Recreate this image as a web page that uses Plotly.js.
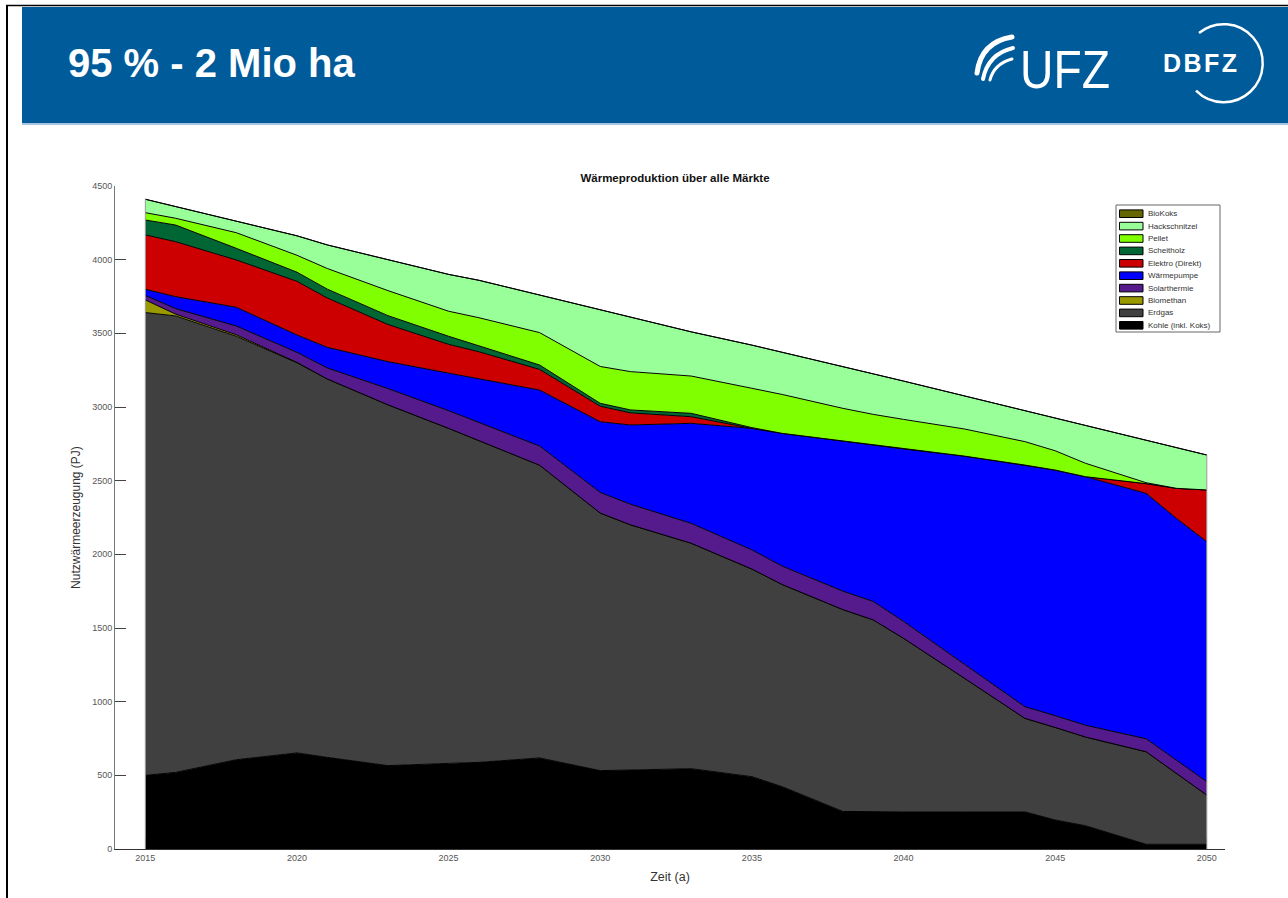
<!DOCTYPE html>
<html>
<head>
<meta charset="utf-8">
<script src="https://cdn.plot.ly/plotly-3.0.1.min.js"></script>
<style>
  html, body { margin:0; padding:0; background:#fff; }
  #page { position:relative; width:1288px; height:898px; overflow:hidden; background:#fff; }
  #chart { position:absolute; left:0; top:0; width:1288px; height:898px; }
  #header { position:absolute; left:0; top:0; }
  #leftborder { position:absolute; left:6px; top:5px; width:2px; height:893px; background:#000; }
</style>
</head>
<body>
<div id="page">
  <div id="chart"></div>
  <svg id="header" width="1288" height="130" xmlns="http://www.w3.org/2000/svg">
    <line x1="6" y1="5.5" x2="1288" y2="5.5" stroke="#000" stroke-width="1.5"/>
    <rect x="22" y="7" width="1266" height="116" fill="#005b9b"/>
    <rect x="22" y="123" width="1266" height="2" fill="#a8c4de"/>
    <text x="68" y="77" font-family="Liberation Sans, Arial, sans-serif" font-weight="bold" font-size="40" fill="#ffffff">95 % - 2 Mio ha</text>
    <g fill="none" stroke="#ffffff" stroke-linecap="round">
      <path d="M977 73 Q981 42 1012 37" stroke-width="5"/>
      <path d="M983 79 Q988 54 1013 48" stroke-width="4"/>
      <path d="M990 80 Q994 64 1012 59" stroke-width="3"/>
    </g>
    <text x="1020" y="88" font-family="Liberation Sans, Arial, sans-serif" font-size="53" textLength="90" lengthAdjust="spacingAndGlyphs" fill="#ffffff">UFZ</text>
    <text x="1163" y="72" font-family="Liberation Sans, Arial, sans-serif" font-weight="bold" font-size="25" textLength="74" lengthAdjust="spacing" fill="#ffffff">DBFZ</text>
    <path d="M1199 33 A39 39 0 1 1 1196 90.6" fill="none" stroke="#ffffff" stroke-width="2.5"/>
  </svg>
  <div id="leftborder"></div>
</div>
<script>
// ---- data (PJ) ----
const years = [2015, 2016, 2018, 2020, 2021, 2023, 2025, 2026, 2028, 2030, 2031, 2033,
               2035, 2036, 2038, 2039, 2040, 2042, 2044, 2045, 2046, 2048, 2049, 2050];

const kohle        = [500, 520, 606, 652, 622, 566, 581, 588, 618, 532, 536, 545,
                      491, 423, 255, 252, 252, 252, 252, 197, 158, 32, 32, 32];
const erdgas       = [3141, 3098, 2874, 2648, 2568, 2449, 2274, 2183, 1987, 1748, 1664, 1530,
                      1409, 1372, 1370, 1303, 1178, 908, 635, 628, 602, 628, 481, 334];
const biomethan    = [86, 12, 10, 3, 0, 0, 0, 0, 0, 0, 0, 0,
                      0, 0, 0, 0, 0, 0, 0, 0, 0, 0, 0, 0];
const solarthermie = [30, 38, 60, 68, 75, 110, 120, 125, 130, 140, 140, 135,
                      130, 125, 125, 125, 115, 95, 79, 80, 80, 88, 91, 91];
const waermepumpe  = [42, 81, 127, 118, 140, 183, 255, 296, 380, 480, 538, 679,
                      825, 901, 1019, 1060, 1170, 1412, 1640, 1667, 1687, 1666, 1640, 1629];
const elektro      = [369, 373, 321, 364, 335, 252, 195, 183, 140, 105, 82, 45,
                      0, 0, 0, 0, 0, 0, 0, 0, 0, 66, 204, 351];
const scheitholz   = [101, 113, 79, 62, 60, 60, 55, 39, 30, 20, 20, 23,
                      5, 0, 0, 0, 0, 0, 0, 0, 0, 0, 0, 0];
const pellet       = [50, 46, 106, 115, 140, 170, 170, 192, 220, 250, 260, 253,
                      267, 264, 222, 210, 201, 184, 159, 131, 91, 6, 0, 0];
const hackschnitzel= [91, 79, 77, 132, 160, 208, 250, 254, 255, 385, 370, 300,
                      293, 285, 284, 275, 260, 225, 212, 222, 258, 289, 277, 237];
const biokoks      = [0, 0, 0, 0, 0, 0, 0, 0, 0, 0, 0, 0,
                      0, 0, 0, 0, 0, 0, 0, 0, 0, 0, 0, 0];

// stacking order bottom -> top
const seriesNames = ['Kohle (inkl. Koks)', 'Erdgas', 'Biomethan', 'Solarthermie', 'Wärmepumpe',
                     'Elektro (Direkt)', 'Scheitholz', 'Pellet', 'Hackschnitzel', 'BioKoks'];
const seriesValues = [kohle, erdgas, biomethan, solarthermie, waermepumpe,
                      elektro, scheitholz, pellet, hackschnitzel, biokoks];
const seriesColors = ['#000000', '#404040', '#999900', '#551a8b', '#0000ff',
                      '#cc0000', '#006633', '#80ff00', '#99ff99', '#666600'];

const xTickVals = [2015, 2020, 2025, 2030, 2035, 2040, 2045, 2050];
const yTickVals = [0, 500, 1000, 1500, 2000, 2500, 3000, 3500, 4000, 4500];

const chartTitle = 'Wärmeproduktion über alle Märkte';
const xTitle = 'Zeit (a)';
const yTitle = 'Nutzwärmeerzeugung (PJ)';

// ---- layout geometry ----
const W = 1288, H = 898;
const M = {l: 115, r: 63, t: 186, b: 49};
const PW = W - M.l - M.r, PH = H - M.t - M.b;
const px2x = px => (px - M.l) / PW;
const py2y = py => (H - M.b - py) / PH;
const FONT = 'Liberation Sans, Arial, sans-serif';

const traces = seriesNames.map((name, i) => ({
  type: 'scatter', mode: 'lines', name: name,
  x: years, y: seriesValues[i],
  stackgroup: 'one', fill: 'tonexty',
  fillcolor: seriesColors[i],
  line: {color: '#000000', width: 1},
  hoverinfo: 'skip', showlegend: false
}));

const totals = years.map((_, j) => seriesValues.reduce((s, arr) => s + arr[j], 0));

const shapes = [
  {type: 'line', xref: 'x', yref: 'y', x0: years[0], x1: years[0], y0: 0, y1: totals[0],
   line: {color: '#9a9a9a', width: 1}},
  {type: 'line', xref: 'x', yref: 'y', x0: years[years.length - 1], x1: years[years.length - 1],
   y0: 0, y1: totals[totals.length - 1], line: {color: '#9a9a9a', width: 1}},
  // legend box
  {type: 'rect', xref: 'paper', yref: 'paper', x0: px2x(1116), x1: px2x(1220),
   y0: py2y(332), y1: py2y(205), fillcolor: '#ffffff', line: {color: '#666', width: 1}}
];
const annotations = [];
const nSer = seriesNames.length;
for (let k = 0; k < nSer; k++) {
  const idx = nSer - 1 - k;          // legend lists top series first
  const cy = 213.7 + 12.4 * k;
  shapes.push({type: 'rect', xref: 'paper', yref: 'paper',
    x0: px2x(1119.5), x1: px2x(1143), y0: py2y(cy + 3.8), y1: py2y(cy - 3.8),
    fillcolor: seriesColors[idx], line: {color: '#000', width: 1}});
  annotations.push({xref: 'paper', yref: 'paper', x: px2x(1146), y: py2y(cy),
    xanchor: 'left', yanchor: 'middle', showarrow: false, text: seriesNames[idx],
    font: {family: FONT, size: 8, color: '#333'}});
}

const layout = {
  width: W, height: H,
  margin: M,
  paper_bgcolor: 'rgba(0,0,0,0)', plot_bgcolor: 'rgba(0,0,0,0)',
  showlegend: false,
  font: {family: FONT, color: '#333'},
  title: {text: '<b>' + chartTitle + '</b>', font: {family: FONT, size: 11.5, color: '#111'},
          xref: 'paper', x: px2x(675), xanchor: 'center',
          yref: 'container', y: 1 - 178 / H, yanchor: 'middle'},
  xaxis: {range: [2014, 2050.6], tickvals: xTickVals, ticktext: xTickVals.map(String),
          ticks: 'inside', ticklen: 11, tickcolor: '#444', showgrid: false, zeroline: false,
          showline: true, linecolor: '#333', linewidth: 1, layer: 'below traces',
          tickfont: {family: FONT, size: 9, color: '#555'},
          title: {text: xTitle, font: {family: FONT, size: 12.5, color: '#333'}, standoff: 10}},
  yaxis: {range: [0, 4500], tickvals: yTickVals, ticktext: yTickVals.map(String),
          ticks: 'inside', ticklen: 11, tickcolor: '#444', showgrid: false, zeroline: false,
          showline: true, linecolor: '#777', linewidth: 1, layer: 'below traces',
          tickfont: {family: FONT, size: 9, color: '#555'},
          title: {text: yTitle, font: {family: FONT, size: 12, color: '#333'}, standoff: 8}},
  shapes: shapes,
  annotations: annotations
};

Plotly.newPlot('chart', traces, layout, {staticPlot: true, displayModeBar: false});
</script>
</body>
</html>
